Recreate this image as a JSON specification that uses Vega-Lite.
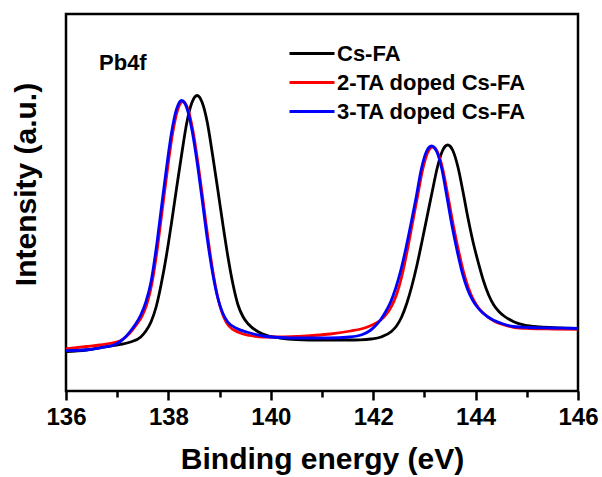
{
  "$schema": "https://vega.github.io/schema/vega-lite/v6.json",
  "autosize": {"type": "none"},
  "padding": {"left": 66, "top": 14, "right": 24, "bottom": 86},
  "width": 512,
  "height": 377,
  "background": "white",
  "config": {
    "font": "Liberation Sans",
    "view": {"stroke": "black", "strokeWidth": 2.5},
    "axis": {"grid": false, "domain": false, "labelColor": "black", "titleColor": "black"}
  },
  "datasets": {
    "xps": [
      {"series": "Cs-FA", "energy": 136.00, "intensity": 39.5},
      {"series": "Cs-FA", "energy": 136.40, "intensity": 41},
      {"series": "Cs-FA", "energy": 136.79, "intensity": 44.3},
      {"series": "Cs-FA", "energy": 137.06, "intensity": 46.5},
      {"series": "Cs-FA", "energy": 137.26, "intensity": 49},
      {"series": "Cs-FA", "energy": 137.46, "intensity": 54},
      {"series": "Cs-FA", "energy": 137.56, "intensity": 60},
      {"series": "Cs-FA", "energy": 137.66, "intensity": 69},
      {"series": "Cs-FA", "energy": 137.76, "intensity": 84},
      {"series": "Cs-FA", "energy": 137.86, "intensity": 107},
      {"series": "Cs-FA", "energy": 137.96, "intensity": 135},
      {"series": "Cs-FA", "energy": 138.06, "intensity": 168},
      {"series": "Cs-FA", "energy": 138.16, "intensity": 203},
      {"series": "Cs-FA", "energy": 138.26, "intensity": 237},
      {"series": "Cs-FA", "energy": 138.36, "intensity": 268.5},
      {"series": "Cs-FA", "energy": 138.46, "intensity": 288.5},
      {"series": "Cs-FA", "energy": 138.56, "intensity": 295.5},
      {"series": "Cs-FA", "energy": 138.66, "intensity": 288.5},
      {"series": "Cs-FA", "energy": 138.76, "intensity": 268.5},
      {"series": "Cs-FA", "energy": 138.86, "intensity": 237},
      {"series": "Cs-FA", "energy": 138.96, "intensity": 203},
      {"series": "Cs-FA", "energy": 139.06, "intensity": 168},
      {"series": "Cs-FA", "energy": 139.16, "intensity": 135},
      {"series": "Cs-FA", "energy": 139.26, "intensity": 107},
      {"series": "Cs-FA", "energy": 139.36, "intensity": 86},
      {"series": "Cs-FA", "energy": 139.46, "intensity": 74},
      {"series": "Cs-FA", "energy": 139.56, "intensity": 67},
      {"series": "Cs-FA", "energy": 139.76, "intensity": 59},
      {"series": "Cs-FA", "energy": 139.96, "intensity": 55},
      {"series": "Cs-FA", "energy": 140.18, "intensity": 53},
      {"series": "Cs-FA", "energy": 140.50, "intensity": 51.5},
      {"series": "Cs-FA", "energy": 141.00, "intensity": 51},
      {"series": "Cs-FA", "energy": 141.50, "intensity": 51},
      {"series": "Cs-FA", "energy": 141.755, "intensity": 51.2},
      {"series": "Cs-FA", "energy": 141.955, "intensity": 52},
      {"series": "Cs-FA", "energy": 142.155, "intensity": 54},
      {"series": "Cs-FA", "energy": 142.355, "intensity": 59.5},
      {"series": "Cs-FA", "energy": 142.455, "intensity": 65},
      {"series": "Cs-FA", "energy": 142.555, "intensity": 74},
      {"series": "Cs-FA", "energy": 142.655, "intensity": 87.5},
      {"series": "Cs-FA", "energy": 142.755, "intensity": 105},
      {"series": "Cs-FA", "energy": 142.855, "intensity": 126},
      {"series": "Cs-FA", "energy": 142.955, "intensity": 150},
      {"series": "Cs-FA", "energy": 143.055, "intensity": 175},
      {"series": "Cs-FA", "energy": 143.155, "intensity": 200},
      {"series": "Cs-FA", "energy": 143.255, "intensity": 224},
      {"series": "Cs-FA", "energy": 143.355, "intensity": 240.5},
      {"series": "Cs-FA", "energy": 143.455, "intensity": 246},
      {"series": "Cs-FA", "energy": 143.555, "intensity": 240.5},
      {"series": "Cs-FA", "energy": 143.655, "intensity": 224},
      {"series": "Cs-FA", "energy": 143.755, "intensity": 199},
      {"series": "Cs-FA", "energy": 143.855, "intensity": 172},
      {"series": "Cs-FA", "energy": 143.955, "intensity": 148},
      {"series": "Cs-FA", "energy": 144.055, "intensity": 128},
      {"series": "Cs-FA", "energy": 144.155, "intensity": 110},
      {"series": "Cs-FA", "energy": 144.255, "intensity": 96},
      {"series": "Cs-FA", "energy": 144.355, "intensity": 86},
      {"series": "Cs-FA", "energy": 144.455, "intensity": 79.5},
      {"series": "Cs-FA", "energy": 144.555, "intensity": 75},
      {"series": "Cs-FA", "energy": 144.755, "intensity": 69},
      {"series": "Cs-FA", "energy": 144.955, "intensity": 65.8},
      {"series": "Cs-FA", "energy": 145.255, "intensity": 64},
      {"series": "Cs-FA", "energy": 145.60, "intensity": 63.2},
      {"series": "Cs-FA", "energy": 146.00, "intensity": 62.7},

      {"series": "2-TA doped Cs-FA", "energy": 136.00, "intensity": 42.3},
      {"series": "2-TA doped Cs-FA", "energy": 136.40, "intensity": 44.5},
      {"series": "2-TA doped Cs-FA", "energy": 136.66, "intensity": 46},
      {"series": "2-TA doped Cs-FA", "energy": 136.90, "intensity": 48},
      {"series": "2-TA doped Cs-FA", "energy": 137.05, "intensity": 50},
      {"series": "2-TA doped Cs-FA", "energy": 137.18, "intensity": 54.5},
      {"series": "2-TA doped Cs-FA", "energy": 137.28, "intensity": 60},
      {"series": "2-TA doped Cs-FA", "energy": 137.38, "intensity": 66.5},
      {"series": "2-TA doped Cs-FA", "energy": 137.48, "intensity": 74.5},
      {"series": "2-TA doped Cs-FA", "energy": 137.58, "intensity": 87},
      {"series": "2-TA doped Cs-FA", "energy": 137.68, "intensity": 108},
      {"series": "2-TA doped Cs-FA", "energy": 137.78, "intensity": 141},
      {"series": "2-TA doped Cs-FA", "energy": 137.88, "intensity": 181},
      {"series": "2-TA doped Cs-FA", "energy": 137.98, "intensity": 221},
      {"series": "2-TA doped Cs-FA", "energy": 138.08, "intensity": 257},
      {"series": "2-TA doped Cs-FA", "energy": 138.18, "intensity": 281},
      {"series": "2-TA doped Cs-FA", "energy": 138.28, "intensity": 289.5},
      {"series": "2-TA doped Cs-FA", "energy": 138.38, "intensity": 282},
      {"series": "2-TA doped Cs-FA", "energy": 138.48, "intensity": 260},
      {"series": "2-TA doped Cs-FA", "energy": 138.58, "intensity": 227},
      {"series": "2-TA doped Cs-FA", "energy": 138.68, "intensity": 189},
      {"series": "2-TA doped Cs-FA", "energy": 138.78, "intensity": 150},
      {"series": "2-TA doped Cs-FA", "energy": 138.88, "intensity": 116},
      {"series": "2-TA doped Cs-FA", "energy": 138.98, "intensity": 90},
      {"series": "2-TA doped Cs-FA", "energy": 139.08, "intensity": 74},
      {"series": "2-TA doped Cs-FA", "energy": 139.18, "intensity": 65},
      {"series": "2-TA doped Cs-FA", "energy": 139.38, "intensity": 58.5},
      {"series": "2-TA doped Cs-FA", "energy": 139.59, "intensity": 55.5},
      {"series": "2-TA doped Cs-FA", "energy": 139.85, "intensity": 54},
      {"series": "2-TA doped Cs-FA", "energy": 140.18, "intensity": 54},
      {"series": "2-TA doped Cs-FA", "energy": 140.50, "intensity": 54.5},
      {"series": "2-TA doped Cs-FA", "energy": 140.80, "intensity": 55.5},
      {"series": "2-TA doped Cs-FA", "energy": 141.16, "intensity": 57},
      {"series": "2-TA doped Cs-FA", "energy": 141.56, "intensity": 60},
      {"series": "2-TA doped Cs-FA", "energy": 141.86, "intensity": 63.5},
      {"series": "2-TA doped Cs-FA", "energy": 142.06, "intensity": 68},
      {"series": "2-TA doped Cs-FA", "energy": 142.16, "intensity": 71.5},
      {"series": "2-TA doped Cs-FA", "energy": 142.26, "intensity": 77},
      {"series": "2-TA doped Cs-FA", "energy": 142.36, "intensity": 85},
      {"series": "2-TA doped Cs-FA", "energy": 142.46, "intensity": 97},
      {"series": "2-TA doped Cs-FA", "energy": 142.56, "intensity": 115},
      {"series": "2-TA doped Cs-FA", "energy": 142.66, "intensity": 139},
      {"series": "2-TA doped Cs-FA", "energy": 142.76, "intensity": 166},
      {"series": "2-TA doped Cs-FA", "energy": 142.86, "intensity": 193},
      {"series": "2-TA doped Cs-FA", "energy": 142.96, "intensity": 220},
      {"series": "2-TA doped Cs-FA", "energy": 143.06, "intensity": 238},
      {"series": "2-TA doped Cs-FA", "energy": 143.16, "intensity": 244},
      {"series": "2-TA doped Cs-FA", "energy": 143.26, "intensity": 238.5},
      {"series": "2-TA doped Cs-FA", "energy": 143.36, "intensity": 221.5},
      {"series": "2-TA doped Cs-FA", "energy": 143.46, "intensity": 195},
      {"series": "2-TA doped Cs-FA", "energy": 143.56, "intensity": 167},
      {"series": "2-TA doped Cs-FA", "energy": 143.66, "intensity": 142},
      {"series": "2-TA doped Cs-FA", "energy": 143.76, "intensity": 120},
      {"series": "2-TA doped Cs-FA", "energy": 143.86, "intensity": 103},
      {"series": "2-TA doped Cs-FA", "energy": 143.96, "intensity": 91},
      {"series": "2-TA doped Cs-FA", "energy": 144.06, "intensity": 83},
      {"series": "2-TA doped Cs-FA", "energy": 144.16, "intensity": 77.5},
      {"series": "2-TA doped Cs-FA", "energy": 144.36, "intensity": 70},
      {"series": "2-TA doped Cs-FA", "energy": 144.56, "intensity": 66},
      {"series": "2-TA doped Cs-FA", "energy": 144.76, "intensity": 63.5},
      {"series": "2-TA doped Cs-FA", "energy": 145.06, "intensity": 62.5},
      {"series": "2-TA doped Cs-FA", "energy": 145.50, "intensity": 62},
      {"series": "2-TA doped Cs-FA", "energy": 146.00, "intensity": 61.7},

      {"series": "3-TA doped Cs-FA", "energy": 136.00, "intensity": 40.3},
      {"series": "3-TA doped Cs-FA", "energy": 136.47, "intensity": 41.5},
      {"series": "3-TA doped Cs-FA", "energy": 136.70, "intensity": 43.5},
      {"series": "3-TA doped Cs-FA", "energy": 136.96, "intensity": 46.5},
      {"series": "3-TA doped Cs-FA", "energy": 137.06, "intensity": 49.5},
      {"series": "3-TA doped Cs-FA", "energy": 137.16, "intensity": 54},
      {"series": "3-TA doped Cs-FA", "energy": 137.26, "intensity": 60},
      {"series": "3-TA doped Cs-FA", "energy": 137.36, "intensity": 67},
      {"series": "3-TA doped Cs-FA", "energy": 137.46, "intensity": 76},
      {"series": "3-TA doped Cs-FA", "energy": 137.56, "intensity": 89},
      {"series": "3-TA doped Cs-FA", "energy": 137.66, "intensity": 109},
      {"series": "3-TA doped Cs-FA", "energy": 137.76, "intensity": 142},
      {"series": "3-TA doped Cs-FA", "energy": 137.86, "intensity": 182},
      {"series": "3-TA doped Cs-FA", "energy": 137.96, "intensity": 222},
      {"series": "3-TA doped Cs-FA", "energy": 138.06, "intensity": 258},
      {"series": "3-TA doped Cs-FA", "energy": 138.16, "intensity": 282},
      {"series": "3-TA doped Cs-FA", "energy": 138.26, "intensity": 290.5},
      {"series": "3-TA doped Cs-FA", "energy": 138.36, "intensity": 283},
      {"series": "3-TA doped Cs-FA", "energy": 138.46, "intensity": 261},
      {"series": "3-TA doped Cs-FA", "energy": 138.56, "intensity": 229},
      {"series": "3-TA doped Cs-FA", "energy": 138.66, "intensity": 191},
      {"series": "3-TA doped Cs-FA", "energy": 138.76, "intensity": 152},
      {"series": "3-TA doped Cs-FA", "energy": 138.86, "intensity": 119},
      {"series": "3-TA doped Cs-FA", "energy": 138.96, "intensity": 94},
      {"series": "3-TA doped Cs-FA", "energy": 139.06, "intensity": 78},
      {"series": "3-TA doped Cs-FA", "energy": 139.16, "intensity": 69},
      {"series": "3-TA doped Cs-FA", "energy": 139.36, "intensity": 62},
      {"series": "3-TA doped Cs-FA", "energy": 139.56, "intensity": 58.5},
      {"series": "3-TA doped Cs-FA", "energy": 139.85, "intensity": 55},
      {"series": "3-TA doped Cs-FA", "energy": 140.18, "intensity": 53.5},
      {"series": "3-TA doped Cs-FA", "energy": 140.60, "intensity": 53},
      {"series": "3-TA doped Cs-FA", "energy": 141.14, "intensity": 53},
      {"series": "3-TA doped Cs-FA", "energy": 141.54, "intensity": 54},
      {"series": "3-TA doped Cs-FA", "energy": 141.79, "intensity": 56.5},
      {"series": "3-TA doped Cs-FA", "energy": 141.94, "intensity": 60.5},
      {"series": "3-TA doped Cs-FA", "energy": 142.04, "intensity": 65},
      {"series": "3-TA doped Cs-FA", "energy": 142.14, "intensity": 71},
      {"series": "3-TA doped Cs-FA", "energy": 142.24, "intensity": 79},
      {"series": "3-TA doped Cs-FA", "energy": 142.34, "intensity": 89},
      {"series": "3-TA doped Cs-FA", "energy": 142.44, "intensity": 103},
      {"series": "3-TA doped Cs-FA", "energy": 142.54, "intensity": 121},
      {"series": "3-TA doped Cs-FA", "energy": 142.64, "intensity": 143},
      {"series": "3-TA doped Cs-FA", "energy": 142.74, "intensity": 168},
      {"series": "3-TA doped Cs-FA", "energy": 142.84, "intensity": 194},
      {"series": "3-TA doped Cs-FA", "energy": 142.94, "intensity": 222},
      {"series": "3-TA doped Cs-FA", "energy": 143.04, "intensity": 239.5},
      {"series": "3-TA doped Cs-FA", "energy": 143.14, "intensity": 245},
      {"series": "3-TA doped Cs-FA", "energy": 143.24, "intensity": 239.5},
      {"series": "3-TA doped Cs-FA", "energy": 143.34, "intensity": 222},
      {"series": "3-TA doped Cs-FA", "energy": 143.44, "intensity": 194},
      {"series": "3-TA doped Cs-FA", "energy": 143.54, "intensity": 165},
      {"series": "3-TA doped Cs-FA", "energy": 143.64, "intensity": 140},
      {"series": "3-TA doped Cs-FA", "energy": 143.74, "intensity": 118},
      {"series": "3-TA doped Cs-FA", "energy": 143.84, "intensity": 102},
      {"series": "3-TA doped Cs-FA", "energy": 143.94, "intensity": 91},
      {"series": "3-TA doped Cs-FA", "energy": 144.04, "intensity": 83.5},
      {"series": "3-TA doped Cs-FA", "energy": 144.14, "intensity": 78},
      {"series": "3-TA doped Cs-FA", "energy": 144.34, "intensity": 71},
      {"series": "3-TA doped Cs-FA", "energy": 144.54, "intensity": 67},
      {"series": "3-TA doped Cs-FA", "energy": 144.74, "intensity": 64.5},
      {"series": "3-TA doped Cs-FA", "energy": 145.04, "intensity": 63.5},
      {"series": "3-TA doped Cs-FA", "energy": 145.50, "intensity": 63},
      {"series": "3-TA doped Cs-FA", "energy": 146.00, "intensity": 62.5}
    ]
  },
  "layer": [
    {
      "data": {"name": "xps"},
      "transform": [{"filter": "datum.series === 'Cs-FA'"}],
      "mark": {"type": "line", "interpolate": "monotone", "strokeWidth": 2.8},
      "encoding": {
        "x": {
          "field": "energy",
          "type": "quantitative",
          "scale": {"domain": [136, 146], "nice": false, "zero": false},
          "axis": {
            "title": "Binding energy (eV)",
            "values": [136, 137, 138, 139, 140, 141, 142, 143, 144, 145, 146],
            "labelExpr": "datum.value % 2 === 0 ? datum.label : ''",
            "labelOverlap": false,
            "labelFlush": false,
            "labelFont": "Liberation Sans",
            "labelFontSize": 24,
            "labelFontWeight": "bold",
            "labelBaseline": "alphabetic",
            "labelPadding": 24,
            "ticks": true,
            "tickColor": "black",
            "tickWidth": 2.5,
            "tickSize": {"condition": {"test": "datum.value % 2 !== 0", "value": 6}, "value": 9},
            "titleFont": "Liberation Sans",
            "titleFontSize": 30,
            "titleFontWeight": "bold",
            "titleBaseline": "alphabetic",
            "titleX": 256,
            "titleY": 77,
            "titleAnchor": "middle",
            "titleAlign": "center"
          }
        },
        "y": {
          "field": "intensity",
          "type": "quantitative",
          "scale": {"domain": [0, 377], "nice": false, "zero": false},
          "axis": {
            "title": "Intensity (a.u.)",
            "labels": false,
            "ticks": false,
            "titleFont": "Liberation Sans",
            "titleFontSize": 30,
            "titleFontWeight": "bold",
            "titleAngle": -90,
            "titleAlign": "center",
            "titleBaseline": "alphabetic",
            "titleX": -31,
            "titleY": 170
          }
        },
        "color": {
          "field": "series",
          "type": "nominal",
          "scale": {
            "domain": ["Cs-FA", "2-TA doped Cs-FA", "3-TA doped Cs-FA"],
            "range": ["#000000", "#ff0000", "#0000ff"]
          },
          "legend": {
            "title": null,
            "orient": "none",
            "legendX": 233,
            "legendY": 26.5,
            "padding": 0,
            "symbolType": "M-2,0H2",
            "symbolSize": 506,
            "symbolStrokeWidth": 2.8,
            "labelFont": "Liberation Sans",
            "labelFontSize": 22,
            "labelFontWeight": "bold",
            "labelColor": "black",
            "labelLimit": 0,
            "labelOffset": 12,
            "rowPadding": 5
          }
        }
      }
    },
    {
      "data": {"name": "xps"},
      "transform": [{"filter": "datum.series === '2-TA doped Cs-FA'"}],
      "mark": {"type": "line", "interpolate": "monotone", "strokeWidth": 2.8},
      "encoding": {
        "x": {"field": "energy", "type": "quantitative"},
        "y": {"field": "intensity", "type": "quantitative"},
        "color": {"field": "series", "type": "nominal"}
      }
    },
    {
      "data": {"name": "xps"},
      "transform": [{"filter": "datum.series === '3-TA doped Cs-FA'"}],
      "mark": {"type": "line", "interpolate": "monotone", "strokeWidth": 2.8},
      "encoding": {
        "x": {"field": "energy", "type": "quantitative"},
        "y": {"field": "intensity", "type": "quantitative"},
        "color": {"field": "series", "type": "nominal"}
      }
    },
    {
      "data": {"values": [{"tag": "Pb4f"}]},
      "mark": {"type": "text", "align": "left", "baseline": "alphabetic", "font": "Liberation Sans", "fontSize": 22, "fontWeight": "bold", "fill": "black"},
      "encoding": {
        "x": {"datum": 136.645, "type": "quantitative"},
        "y": {"datum": 321, "type": "quantitative"},
        "text": {"field": "tag", "type": "nominal"}
      }
    }
  ]
}
